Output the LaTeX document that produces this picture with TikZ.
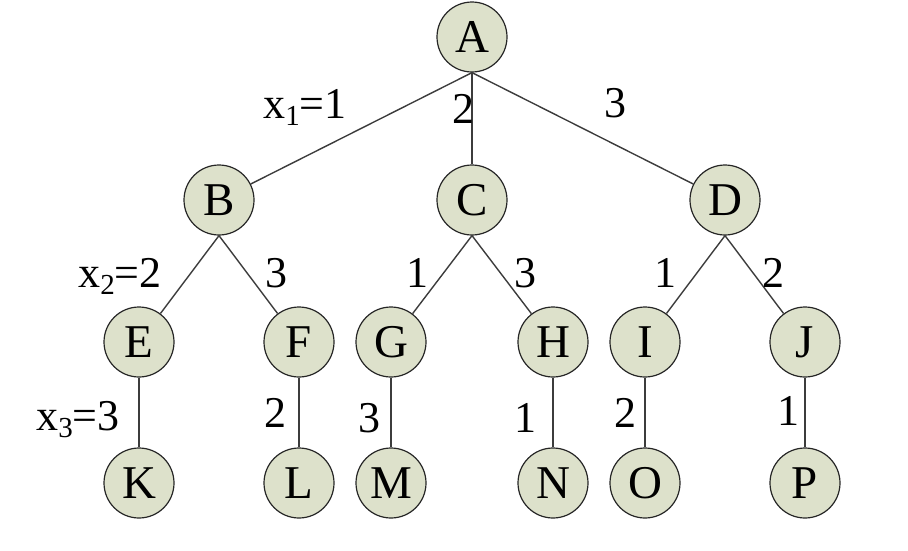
\documentclass[tikz,border=0pt]{standalone}
\usepackage{fontspec}
\setmainfont{Liberation Serif}
\definecolor{nodefill}{RGB}{221,225,203}
\definecolor{edgecol}{RGB}{60,60,60}
\begin{document}
\begin{tikzpicture}[x=1pt,y=-1pt,
  tnode/.style={circle,draw=black!85,line width=1.2pt,fill=nodefill,minimum size=70pt,inner sep=0pt,font=\fontsize{47}{50}\selectfont},
  lab/.style={anchor=base,inner sep=0pt,font=\fontsize{44}{48}\selectfont},
  edge/.style={draw=edgecol,line width=1.4pt}]
\useasboundingbox (0,0) rectangle (908,550);
\node[tnode] (A) at (472,37) {A};
\node[tnode] (B) at (219,200) {B};
\node[tnode] (C) at (472,200) {C};
\node[tnode] (D) at (725,200) {D};
\node[tnode] (E) at (139,342) {E};
\node[tnode] (F) at (299,342) {F};
\node[tnode] (G) at (391,342) {G};
\node[tnode] (H) at (553,342) {H};
\node[tnode] (I) at (645,342) {I};
\node[tnode] (J) at (805,342) {J};
\node[tnode] (K) at (139,483) {K};
\node[tnode] (L) at (299,483) {L};
\node[tnode] (M) at (391,483) {M};
\node[tnode] (N) at (553,483) {N};
\node[tnode] (O) at (645,483) {O};
\node[tnode] (P) at (805,483) {P};
\foreach \p/\c in {A/B,A/C,A/D,B/E,B/F,C/G,C/H,D/I,D/J,E/K,F/L,G/M,H/N,I/O,J/P}
  \draw[edge] (\p.south) -- (\c);
\newcommand{\mysub}[1]{\raisebox{-7pt}{\fontsize{29}{29}\selectfont #1}}
\node[lab] (l1) at (305,118) {x\mysub{1}=1};
\node[lab] (l2) at (463,123) {2};
\node[lab] (l3) at (615,117) {3};
\node[lab] (l4) at (120,287) {x\mysub{2}=2};
\node[lab] (l5) at (276,287) {3};
\node[lab] (l6) at (417,287) {1};
\node[lab] (l7) at (525,287) {3};
\node[lab] (l8) at (665,287) {1};
\node[lab] (l9) at (773,287) {2};
\node[lab] (l10) at (78,430) {x\mysub{3}=3};
\node[lab] (l11) at (275,427) {2};
\node[lab] (l12) at (369,432) {3};
\node[lab] (l13) at (525,432) {1};
\node[lab] (l14) at (625,427) {2};
\node[lab] (l15) at (788,425) {1};
\end{tikzpicture}
\end{document}
